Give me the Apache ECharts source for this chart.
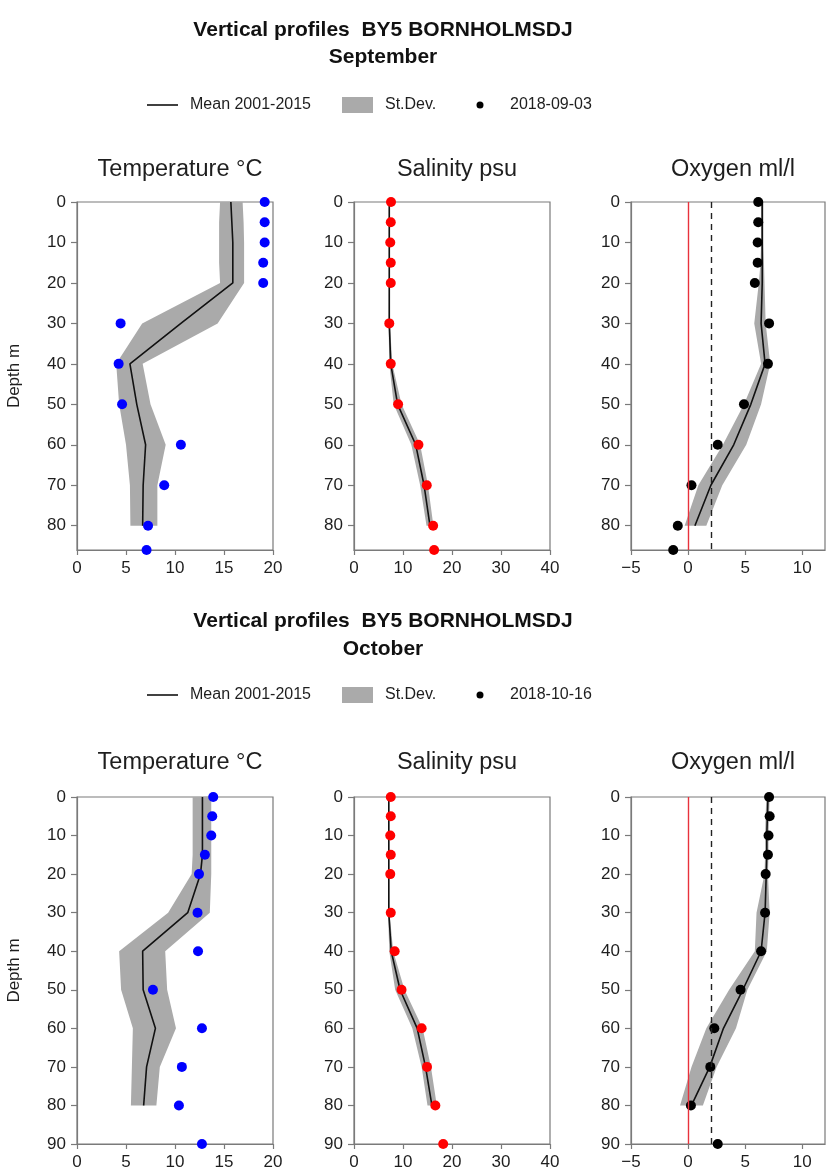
<!DOCTYPE html>
<html>
<head>
<meta charset="utf-8">
<script src="https://cdn.jsdelivr.net/npm/echarts@6/dist/echarts.min.js"></script>
<style>
  html, body { margin: 0; padding: 0; background: #fff; }
  #chart { width: 826px; height: 1173px; }
</style>
</head>
<body>
<div id="chart"></div>
<script>
// ---- text ----
const stationTitle = 'Vertical profiles  BY5 BORNHOLMSDJ';
const months = ['September', 'October'];
const sampleDates = ['2018-09-03', '2018-10-16'];
const meanLabel = 'Mean 2001-2015';
const sdLabel = 'St.Dev.';
const panelTitles = ['Temperature \u00B0C', 'Salinity psu', 'Oxygen ml/l'];
const depthName = 'Depth m';

// ---- depths ----
const climDepth = [0, 5, 10, 15, 20, 30, 40, 50, 60, 70, 80];
const obsDepthSep = [0, 5, 10, 15, 20, 30, 40, 50, 60, 70, 80, 86];
const obsDepthOct = [0, 5, 10, 15, 20, 30, 40, 50, 60, 70, 80, 90];
const depthMax = [86, 90];
const depthTicksSep = [0, 10, 20, 30, 40, 50, 60, 70, 80];
const depthTicksOct = [0, 10, 20, 30, 40, 50, 60, 70, 80, 90];

// ---- x-axis ranges and ticks ----
const tempRange = [0, 20];
const salRange = [0, 40];
const oxyRange = [-5, 12];
const tempTicks = [0, 5, 10, 15, 20];
const salTicks = [0, 10, 20, 30, 40];
const oxyTicks = [-5, 0, 5, 10];
const oxyRefLines = [0, 2];   // anoxia / hypoxia references

// ---- September: climatology 2001-2015 ----
const tempMeanSep = [15.7, 15.8, 15.9, 15.9, 15.9, 10.6, 5.4, 6.1, 7.0, 6.75, 6.7];
const tempLoSep   = [14.6, 14.5, 14.5, 14.5, 14.6, 6.65, 4.0, 4.3, 5.0, 5.4, 5.45];
const tempHiSep   = [16.9, 17.0, 17.05, 17.05, 17.05, 14.35, 6.7, 7.5, 9.05, 8.2, 8.2];
const salMeanSep  = [7.2, 7.2, 7.2, 7.2, 7.2, 7.2, 7.5, 8.9, 12.6, 14.3, 15.5];
const salLoSep    = [7.1, 7.1, 7.1, 7.1, 7.1, 7.05, 7.2, 8.1, 11.7, 13.5, 14.8];
const salHiSep    = [7.3, 7.3, 7.3, 7.3, 7.3, 7.35, 7.8, 9.7, 13.5, 15.1, 16.2];
const oxyMeanSep  = [6.5, 6.5, 6.5, 6.5, 6.5, 6.4, 6.75, 5.5, 4.0, 2.0, 0.6];
const oxyLoSep    = [6.4, 6.4, 6.4, 6.35, 6.2, 5.8, 6.4, 4.9, 3.05, 0.9, -0.3];
const oxyHiSep    = [6.6, 6.6, 6.6, 6.65, 6.7, 6.8, 7.2, 6.4, 5.1, 3.0, 1.6];

// ---- September: 2018-09-03 observations ----
const tempObsSep = [19.15, 19.15, 19.15, 19.0, 19.0, 4.45, 4.25, 4.6, 10.6, 8.9, 7.25, 7.1];
const salObsSep  = [7.55, 7.5, 7.4, 7.5, 7.5, 7.2, 7.5, 9.0, 13.15, 14.85, 16.15, 16.35];
const oxyObsSep  = [6.15, 6.15, 6.1, 6.1, 5.85, 7.1, 7.0, 4.9, 2.6, 0.3, -0.9, -1.3];

// ---- October: climatology 2001-2015 ----
const tempMeanOct = [12.8, 12.8, 12.8, 12.8, 12.6, 11.3, 6.7, 6.75, 8.0, 7.1, 6.8];
const tempLoOct   = [11.8, 11.8, 11.8, 11.8, 11.7, 9.3, 4.3, 4.5, 5.7, 5.6, 5.5];
const tempHiOct   = [13.7, 13.7, 13.7, 13.7, 13.7, 13.55, 9.0, 9.2, 10.1, 8.45, 8.1];
const salMeanOct  = [7.1, 7.1, 7.1, 7.1, 7.1, 7.1, 7.6, 9.4, 12.9, 14.6, 15.9];
const salLoOct    = [7.0, 7.0, 7.0, 7.0, 7.0, 6.95, 7.2, 8.4, 11.9, 13.8, 15.0];
const salHiOct    = [7.2, 7.2, 7.2, 7.2, 7.2, 7.25, 8.0, 10.3, 14.0, 15.7, 16.9];
const oxyMeanOct  = [7.0, 6.95, 6.9, 6.9, 6.85, 6.75, 6.4, 4.8, 3.1, 1.9, 0.3];
const oxyLoOct    = [6.85, 6.8, 6.75, 6.75, 6.7, 6.0, 5.85, 3.6, 1.6, 0.3, -0.7];
const oxyHiOct    = [7.15, 7.1, 7.05, 7.05, 7.0, 7.15, 6.9, 5.2, 4.2, 2.5, 1.3];

// ---- October: 2018-10-16 observations ----
const tempObsOct = [13.9, 13.8, 13.7, 13.05, 12.45, 12.3, 12.35, 7.75, 12.75, 10.7, 10.4, 12.75];
const salObsOct  = [7.5, 7.5, 7.4, 7.5, 7.4, 7.5, 8.3, 9.7, 13.8, 14.9, 16.6, 18.2];
const oxyObsOct  = [7.1, 7.15, 7.05, 7.0, 6.8, 6.75, 6.4, 4.6, 2.3, 1.95, 0.25, 2.6];

// ---- styling ----
const FONT = '"Liberation Sans", Arial, Helvetica, sans-serif';
const TEXT = '#1e1e1e';
const FRAME = '#7a7a7a';
const BAND = '#aaaaaa';
const obsColors = ['#0000ff', '#ff0000', '#000000'];

// panel geometry
const panelLeft = [77, 354, 631];
const panelWidth = [196, 196, 194];
const figTop = [202, 797];
const figHeight = [348, 347];
const figTitleY = [15, 606];
const figSubY = [42, 634];
const legendY = [105, 695];
const panelTitleY = [153, 746];
const titleCenterX = 378;

const figures = [
  {
    obsDepth: obsDepthSep, depthTicks: depthTicksSep,
    vars: [
      { mean: tempMeanSep, lo: tempLoSep, hi: tempHiSep, obs: tempObsSep },
      { mean: salMeanSep, lo: salLoSep, hi: salHiSep, obs: salObsSep },
      { mean: oxyMeanSep, lo: oxyLoSep, hi: oxyHiSep, obs: oxyObsSep }
    ]
  },
  {
    obsDepth: obsDepthOct, depthTicks: depthTicksOct,
    vars: [
      { mean: tempMeanOct, lo: tempLoOct, hi: tempHiOct, obs: tempObsOct },
      { mean: salMeanOct, lo: salLoOct, hi: salHiOct, obs: salObsOct },
      { mean: oxyMeanOct, lo: oxyLoOct, hi: oxyHiOct, obs: oxyObsOct }
    ]
  }
];
const xRanges = [tempRange, salRange, oxyRange];
const xTicks = [tempTicks, salTicks, oxyTicks];
const xIntervals = [5, 10, 5];

const grid = [], xAxis = [], yAxis = [], series = [], title = [], graphic = [];

const minusFmt = v => String(v).replace('-', '\u2212');

figures.forEach((fig, f) => {
  title.push({
    text: stationTitle, left: titleCenterX, top: figTitleY[f], textAlign: 'center',
    textStyle: { fontFamily: FONT, fontSize: 21, fontWeight: 'bold', color: '#111' }
  });
  title.push({
    text: months[f], left: titleCenterX, top: figSubY[f], textAlign: 'center',
    textStyle: { fontFamily: FONT, fontSize: 21, fontWeight: 'bold', color: '#111' }
  });

  // legend row
  const ly = legendY[f];
  const legendFont = { fontFamily: FONT, fontSize: 16, fill: TEXT, verticalAlign: 'middle' };
  graphic.push(
    { type: 'line', shape: { x1: 147, y1: ly, x2: 178, y2: ly }, style: { stroke: '#111', lineWidth: 1.6 }, silent: true },
    { type: 'text', x: 190, y: ly, style: Object.assign({ text: meanLabel }, legendFont), silent: true },
    { type: 'rect', shape: { x: 342, y: ly - 8, width: 31, height: 16 }, style: { fill: BAND }, silent: true },
    { type: 'text', x: 385, y: ly, style: Object.assign({ text: sdLabel }, legendFont), silent: true },
    { type: 'circle', shape: { cx: 480, cy: ly, r: 3.5 }, style: { fill: '#000' }, silent: true },
    { type: 'text', x: 510, y: ly, style: Object.assign({ text: sampleDates[f] }, legendFont), silent: true }
  );

  fig.vars.forEach((v, c) => {
    const idx = f * 3 + c;
    grid.push({
      left: panelLeft[c], top: figTop[f], width: panelWidth[c], height: figHeight[f],
      show: true, borderColor: FRAME, borderWidth: 1.2, backgroundColor: 'transparent'
    });
    title.push({
      text: panelTitles[c], left: panelLeft[c] + panelWidth[c] / 2, top: panelTitleY[f], textAlign: 'center',
      textStyle: { fontFamily: FONT, fontSize: 23.5, fontWeight: 'normal', color: TEXT }
    });
    xAxis.push({
      type: 'value', gridIndex: idx, position: 'bottom',
      min: xRanges[c][0], max: xRanges[c][1], interval: xIntervals[c],
      axisLine: { show: true, onZero: false, lineStyle: { color: FRAME, width: 1.2 } },
      axisTick: { show: true, length: 5, customValues: xTicks[c], lineStyle: { color: FRAME, width: 1.2 } },
      axisLabel: { customValues: xTicks[c], fontFamily: FONT, fontSize: 17, color: TEXT, margin: 10, formatter: minusFmt },
      splitLine: { show: false }
    });
    yAxis.push({
      type: 'value', gridIndex: idx, inverse: true,
      min: 0, max: depthMax[f], interval: 10,
      name: c === 0 ? depthName : '',
      nameLocation: 'middle', nameGap: 54, nameRotate: 90,
      nameTextStyle: { fontFamily: FONT, fontSize: 17, color: TEXT },
      axisLine: { show: true, onZero: false, lineStyle: { color: FRAME, width: 1.2 } },
      axisTick: { show: true, length: 6, customValues: fig.depthTicks, lineStyle: { color: FRAME, width: 1.2 } },
      axisLabel: { customValues: fig.depthTicks, fontFamily: FONT, fontSize: 17, color: TEXT, margin: 11 },
      splitLine: { show: false }
    });

    // standard deviation band as one closed polygon
    const poly = v.lo.map((x, i) => [x, climDepth[i]])
      .concat(v.hi.map((x, i) => [x, climDepth[i]]).reverse());
    series.push({
      type: 'custom', xAxisIndex: idx, yAxisIndex: idx, silent: true, z: 1,
      clip: true, encode: { x: 0, y: 1 }, data: poly,
      renderItem: (params, api) => {
        if (params.dataIndex !== 0) return null;
        return {
          type: 'polygon',
          shape: { points: poly.map(p => api.coord(p)) },
          style: { fill: BAND }
        };
      }
    });

    // climatological mean profile
    const meanSeries = {
      type: 'line', xAxisIndex: idx, yAxisIndex: idx, silent: true, z: 3,
      data: v.mean.map((x, i) => [x, climDepth[i]]),
      showSymbol: false, symbol: 'none',
      lineStyle: { color: '#111', width: 1.6 }
    };
    if (c === 2) {
      meanSeries.markLine = {
        silent: true, symbol: 'none', animation: false, label: { show: false },
        data: [
          { xAxis: oxyRefLines[0], lineStyle: { color: '#e8323c', type: 'solid', width: 1.4 } },
          { xAxis: oxyRefLines[1], lineStyle: { color: '#222', type: [6, 5], width: 1.4 } }
        ]
      };
    }
    series.push(meanSeries);

    // sampled profile
    series.push({
      type: 'scatter', xAxisIndex: idx, yAxisIndex: idx, silent: true, z: 4,
      data: v.obs.map((x, i) => [x, fig.obsDepth[i]]),
      symbol: 'circle', symbolSize: 10, clip: false,
      itemStyle: { color: obsColors[c], opacity: 1 }
    });
  });
});

const chart = echarts.init(document.getElementById('chart'), null, { renderer: 'canvas' });
chart.setOption({
  animation: false,
  backgroundColor: '#ffffff',
  textStyle: { fontFamily: FONT },
  title, grid, xAxis, yAxis, series, graphic
});
</script>
</body>
</html>
